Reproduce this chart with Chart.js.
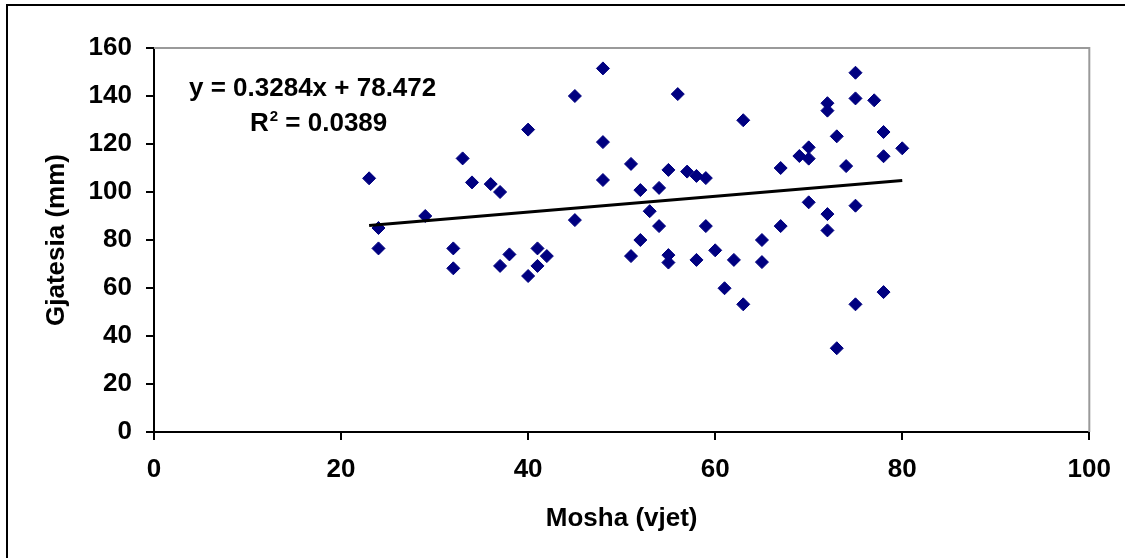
<!DOCTYPE html>
<html>
<head>
<meta charset="utf-8">
<script src="https://cdn.jsdelivr.net/npm/chart.js@4/dist/chart.umd.min.js"></script>
<style>
html,body{margin:0;padding:0;background:#fff;}
#wrap{position:relative;width:1125px;height:558px;}
</style>
</head>
<body>
<div id="wrap"><canvas id="c" width="1125" height="558"></canvas></div>
<script>
// Data
const ageValues = [23,24,24,29,32,32,33,34,36,37,37,38,40,40,41,41,42,45,45,48,48,48,51,51,52,52,53,54,54,55,55,55,56,57,58,58,59,59,60,61,62,63,63,65,65,67,67,69,70,70,70,72,72,72,72,73,73,74,75,75,75,75,77,78,78,78,80];
const lengthValues = [105.7,85,76.5,90,76.5,68.2,114,104,103.3,100,69.2,74,65,126,76.5,69.2,73.3,140,88.3,151.5,120.8,105,111.7,73.3,100.8,80,92,101.7,85.8,109.2,73.7,70.6,140.8,108.5,106.7,71.7,105.8,85.8,75.7,59.9,71.7,129.9,53.2,80,70.8,110,85.8,115,118.6,113.9,95.7,137,133.9,90.8,84,123.2,34.9,110.8,149.7,139,94.3,53.2,138.2,125,114.9,58.3,118.2];
const trendSlope = 0.3284;
const trendIntercept = 78.472;
const trendRange = [23, 80];
const xTicks = [0,20,40,60,80,100];
const yTicks = [0,20,40,60,80,100,120,140,160];
const equationText = 'y = 0.3284x + 78.472';
const r2Value = '0.0389';

const points = ageValues.map((x,i)=>({x:x,y:lengthValues[i]}));
const trendPoints = trendRange.map(x=>({x:x,y:trendSlope*x+trendIntercept}));

const FONT = "'Liberation Sans', Arial, sans-serif";
const FS = 26;

const decor = {
  id:'decor',
  beforeDraw(chart){
    const ctx = chart.ctx;
    ctx.save();
    ctx.fillStyle='#fff';
    ctx.fillRect(0,0,chart.width,chart.height);
    ctx.strokeStyle='#000';
    ctx.lineWidth=2;
    ctx.beginPath();
    ctx.moveTo(7,558);
    ctx.lineTo(7,5);
    ctx.lineTo(1125,5);
    ctx.stroke();
    ctx.restore();
  },
  afterDatasetsDraw(chart){
    const ctx = chart.ctx;
    const a = chart.chartArea;
    ctx.save();
    ctx.strokeStyle='#9a9a9a';
    ctx.lineWidth=2;
    ctx.beginPath();
    ctx.moveTo(a.left, a.top);
    ctx.lineTo(a.right, a.top);
    ctx.lineTo(a.right, a.bottom);
    ctx.stroke();
    ctx.fillStyle='#000';
    ctx.textBaseline='alphabetic';
    ctx.textAlign='left';
    ctx.font="bold "+FS+"px "+FONT;
    ctx.fillText(equationText, 189, 96);
    ctx.fillText('R', 250, 131);
    const rw = ctx.measureText('R').width;
    ctx.font="bold 15px "+FONT;
    ctx.fillText('2', 250+rw+1, 121);
    const sw = ctx.measureText('2').width;
    ctx.font="bold "+FS+"px "+FONT;
    ctx.fillText(' = '+r2Value, 250+rw+1+sw, 131);
    ctx.restore();
  }
};

new Chart(document.getElementById('c'), {
  type:'scatter',
  data:{
    datasets:[
      {
        label:'Gjatesia',
        data:points,
        pointStyle:'rectRot',
        pointRadius:6.5,
        pointHoverRadius:6.5,
        backgroundColor:'#000080',
        borderColor:'#000080',
        borderWidth:1,
        order:2
      },
      {
        label:'Trend',
        type:'line',
        data:trendPoints,
        borderColor:'#000',
        borderWidth:3,
        pointRadius:0,
        fill:false,
        order:1
      }
    ]
  },
  options:{
    responsive:false,
    animation:false,
    events:[],
    layout:{padding:{left:0,right:35,top:48,bottom:0}},
    plugins:{legend:{display:false},tooltip:{enabled:false}},
    scales:{
      x:{
        type:'linear',
        min:0,max:100,
        afterBuildTicks(s){ s.ticks = xTicks.map(v=>({value:v})); },
        afterFit(s){ s.height = 126; },
        grid:{display:true,drawOnChartArea:false,drawTicks:true,tickLength:8,color:'#000',lineWidth:2},
        border:{display:true,color:'#000',width:2},
        ticks:{color:'#000',font:{family:FONT,size:FS,weight:'bold'},padding:14,maxRotation:0},
        title:{display:true,text:'Mosha (vjet)',color:'#000',font:{family:FONT,size:FS,weight:'bold'},padding:{top:0,bottom:24}}
      },
      y:{
        type:'linear',
        min:0,max:160,
        afterBuildTicks(s){ s.ticks = yTicks.map(v=>({value:v})); },
        afterFit(s){ s.width = 154; },
        grid:{display:true,drawOnChartArea:false,drawTicks:true,tickLength:8,color:'#000',lineWidth:2},
        border:{display:true,color:'#000',width:2},
        ticks:{color:'#000',font:{family:FONT,size:FS,weight:'bold'},padding:14},
        title:{display:true,text:'Gjatesia (mm)',color:'#000',font:{family:FONT,size:FS,weight:'bold'},padding:{top:41,bottom:0}}
      }
    }
  },
  plugins:[decor]
});
</script>
</body>
</html>
